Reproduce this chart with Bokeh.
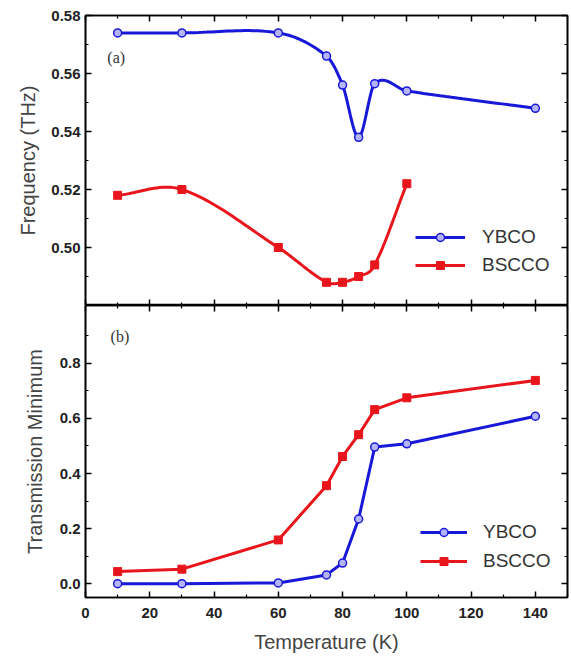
import numpy as np
from bokeh.plotting import figure
from bokeh.layouts import column
from bokeh.models import (LinearAxis, FixedTicker, PrintfTickFormatter, Label,
                          Legend, LegendItem, CustomJSTickFormatter,
                          CustomLabelingPolicy)
from bokeh.embed import file_html
from bokeh.resources import INLINE

# ---- data ----
temp_ybco = [10, 30, 60, 75, 80, 85, 90, 100, 140]
freq_ybco = [0.574, 0.574, 0.574, 0.566, 0.556, 0.538, 0.5565, 0.554, 0.548]
temp_bscco_f = [10, 30, 60, 75, 80, 85, 90, 100]
freq_bscco = [0.518, 0.520, 0.500, 0.488, 0.488, 0.490, 0.494, 0.522]

temp_bscco_t = [10, 30, 60, 75, 80, 85, 90, 100, 140]
tmin_ybco = [0.0, 0.0, 0.003, 0.032, 0.075, 0.235, 0.496, 0.508, 0.608]
tmin_bscco = [0.044, 0.053, 0.159, 0.356, 0.462, 0.541, 0.632, 0.675, 0.738]

freq_ticks = [0.50, 0.52, 0.54, 0.56, 0.58]
freq_minor = [0.49, 0.51, 0.53, 0.55, 0.57]
tmin_ticks = [0.0, 0.2, 0.4, 0.6, 0.8]
tmin_minor = [0.1, 0.3, 0.5, 0.7, 0.9]
temp_ticks = [0, 20, 40, 60, 80, 100, 120, 140]
temp_minor = [10, 30, 50, 70, 90, 110, 130, 150]

BLUE = "#1818d8"
RED = "#e8161c"
FONT = "Liberation Sans"


def smooth(x, y, n=24):
    """Hermite curve through the points (finite-difference tangents)."""
    x = np.asarray(x, float)
    y = np.asarray(y, float)
    m = np.empty_like(y)
    m[0] = (y[1] - y[0]) / (x[1] - x[0])
    m[-1] = (y[-1] - y[-2]) / (x[-1] - x[-2])
    m[1:-1] = (y[2:] - y[:-2]) / (x[2:] - x[:-2])
    xs, ys = [], []
    for i in range(len(x) - 1):
        h = x[i + 1] - x[i]
        s = np.linspace(0, 1, n)
        h00 = 2 * s**3 - 3 * s**2 + 1
        h10 = s**3 - 2 * s**2 + s
        h01 = -2 * s**3 + 3 * s**2
        h11 = s**3 - s**2
        xs.extend(x[i] + s * h)
        ys.extend(h00 * y[i] + h10 * h * m[i] + h01 * y[i + 1] + h11 * h * m[i + 1])
    return xs, ys


def tick_style(ax, tin=6, mtin=3):
    ax.axis_line_width = 1.6
    ax.axis_line_color = "black"
    ax.major_tick_in = tin
    ax.major_tick_out = 0
    ax.minor_tick_in = mtin
    ax.minor_tick_out = 0
    ax.major_tick_line_width = 1.5
    ax.minor_tick_line_width = 1.2
    ax.major_tick_line_color = "black"
    ax.minor_tick_line_color = "black"


def hide_labels(ax):
    ax.formatter = CustomJSTickFormatter(code="return ''")
    ax.major_label_policy = CustomLabelingPolicy(
        code="for (const i of indices) indices.unset(i)")
    ax.major_label_standoff = 0
    ax.major_label_text_font_size = "0px"


def show_labels(ax, fmt):
    ax.major_label_text_font = FONT
    ax.major_label_text_font_style = "bold"
    ax.major_label_text_font_size = "15px"
    ax.major_label_text_color = "#222222"
    ax.formatter = PrintfTickFormatter(format=fmt)


def axis_title(ax, text, standoff):
    ax.axis_label = text
    ax.axis_label_text_font = FONT
    ax.axis_label_text_font_style = "normal"
    ax.axis_label_text_font_size = "20px"
    ax.axis_label_text_color = "#444444"
    ax.axis_label_standoff = standoff


def make_fig(frame_h, yr, top_b, bot_b):
    p = figure(frame_width=482, frame_height=frame_h, x_range=(0, 150), y_range=yr,
               output_backend="svg", toolbar_location=None,
               min_border_left=85, min_border_right=4,
               min_border_top=top_b, min_border_bottom=bot_b)
    p.xgrid.visible = False
    p.ygrid.visible = False
    p.outline_line_color = "black"
    p.outline_line_width = 1.6
    p.background_fill_color = "white"
    p.border_fill_color = "white"
    return p


xt = FixedTicker(ticks=temp_ticks, minor_ticks=temp_minor)

# ---- top panel ----
top = make_fig(290, (0.48, 0.58), 15, 0)
yt_f = FixedTicker(ticks=freq_ticks, minor_ticks=freq_minor)
top.xaxis.ticker = xt
top.yaxis.ticker = yt_f
tick_style(top.xaxis[0])
hide_labels(top.xaxis[0])
tick_style(top.yaxis[0])
show_labels(top.yaxis[0], "%.2f")
top.yaxis.major_label_standoff = 5
axis_title(top.yaxis[0], "Frequency (THz)", 9)
a = LinearAxis(ticker=xt)
tick_style(a)
hide_labels(a)
top.add_layout(a, "above")
a = LinearAxis(ticker=yt_f)
tick_style(a)
hide_labels(a)
top.add_layout(a, "right")

sx, sy = smooth(temp_ybco, freq_ybco)
l1 = top.line(sx, sy, line_color=BLUE, line_width=3)
m1 = top.scatter(temp_ybco, freq_ybco, marker="circle", size=8, line_color=BLUE,
                 line_width=1.5, fill_color="#b4b4ff")
sx, sy = smooth(temp_bscco_f, freq_bscco)
l2 = top.line(sx, sy, line_color=RED, line_width=3)
m2 = top.scatter(temp_bscco_f, freq_bscco, marker="square", size=8, line_color=RED,
                 fill_color=RED)
leg = Legend(items=[LegendItem(label="YBCO", renderers=[l1, m1]),
                    LegendItem(label="BSCCO", renderers=[l2, m2])],
             location=(330, 29), padding=0, spacing=6, glyph_width=50,
             glyph_height=20, label_height=20, label_standoff=17,
             label_text_font=FONT, label_text_font_size="19px",
             label_text_color="#333333", border_line_color=None,
             background_fill_alpha=0)
top.add_layout(leg)
top.add_layout(Label(x=6.8, y=0.5655, text="(a)", text_font="Liberation Serif",
                     text_font_size="16px", text_color="#333333",
                     text_baseline="middle"))

# ---- bottom panel ----
bot = make_fig(292, (-0.05, 1.01), 0, 62)
yt_t = FixedTicker(ticks=tmin_ticks, minor_ticks=tmin_minor)
bot.xaxis.ticker = xt
bot.yaxis.ticker = yt_t
tick_style(bot.xaxis[0])
tick_style(bot.yaxis[0])
show_labels(bot.xaxis[0], "%d")
show_labels(bot.yaxis[0], "%.1f")
bot.xaxis.major_label_standoff = 10
bot.yaxis.major_label_standoff = 5
axis_title(bot.xaxis[0], "Temperature (K)", 10)
axis_title(bot.yaxis[0], "Transmission Minimum", 11)
a = LinearAxis(ticker=xt)
tick_style(a)
hide_labels(a)
bot.add_layout(a, "above")
a = LinearAxis(ticker=yt_t)
tick_style(a)
hide_labels(a)
bot.add_layout(a, "right")

l3 = bot.line(temp_ybco, tmin_ybco, line_color=BLUE, line_width=3)
m3 = bot.scatter(temp_ybco, tmin_ybco, marker="circle", size=8, line_color=BLUE,
                 line_width=1.5, fill_color="#b4b4ff")
l4 = bot.line(temp_bscco_t, tmin_bscco, line_color=RED, line_width=3)
m4 = bot.scatter(temp_bscco_t, tmin_bscco, marker="square", size=8, line_color=RED,
                 fill_color=RED)
leg2 = Legend(items=[LegendItem(label="YBCO", renderers=[l3, m3]),
                     LegendItem(label="BSCCO", renderers=[l4, m4])],
              location=(335, 25), padding=0, spacing=7, glyph_width=47,
              glyph_height=20, label_height=20, label_standoff=16,
              label_text_font=FONT, label_text_font_size="19px",
              label_text_color="#333333", border_line_color=None,
              background_fill_alpha=0)
bot.add_layout(leg2)
bot.add_layout(Label(x=7.8, y=0.898, text="(b)", text_font="Liberation Serif",
                     text_font_size="16px", text_color="#333333",
                     text_baseline="middle"))

layout = column(top, bot, spacing=0)
open("out.html", "w").write(file_html(layout, INLINE))
